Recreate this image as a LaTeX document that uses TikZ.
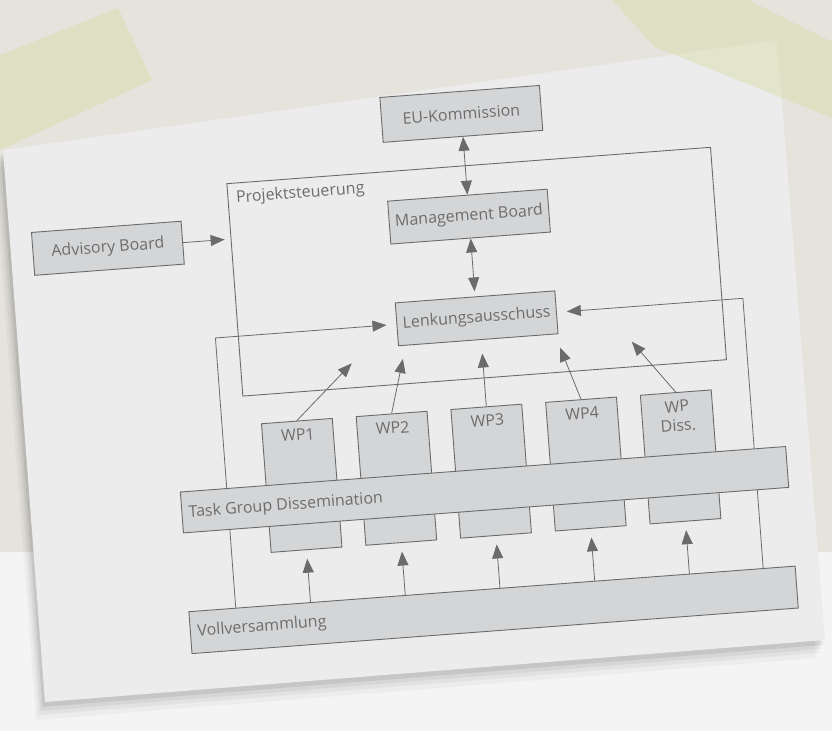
\documentclass[tikz,border=0pt]{standalone}
\usepackage{fontspec}
\setmainfont{Open Sans}
\usetikzlibrary{arrows.meta,calc}

\definecolor{boxfill}{HTML}{D4D5D7}
\definecolor{linegray}{HTML}{6B6B6B}
\definecolor{textgray}{HTML}{6D6D6D}
\definecolor{paper}{HTML}{ECECEC}
\definecolor{wall}{HTML}{E5E3DC}
\definecolor{floor}{HTML}{F4F4F4}
\definecolor{tape}{HTML}{D6DBA6}
\newcommand{\diagfont}{\fontsize{16}{19}\selectfont}

\begin{document}
\begin{tikzpicture}[x=1pt,y=1pt,
    unit/.style={draw=linegray,fill=boxfill,line width=0.9pt,text=textgray,font=\diagfont,inner sep=0pt,align=center},
    frame/.style={draw=linegray,line width=0.9pt},
    conn/.style={draw=linegray,line width=0.8pt,-{Triangle[length=14pt,width=11pt]}},
    dconn/.style={draw=linegray,line width=0.8pt,{Triangle[length=14pt,width=11pt]}-{Triangle[length=14pt,width=11pt]}},
    caption/.style={text=textgray,font=\diagfont,inner sep=0pt}]

\useasboundingbox (0,0) rectangle (832,731);

\begin{scope}[shift={(0,731)},yscale=-1]
  \fill[floor] (0,0) rectangle (832,731);
  \fill[wall] (0,0) rectangle (832,552);
  \foreach \d/\o in {18/0.03,13/0.04,9/0.05,5/0.07}
    \fill[black,opacity=\o,shift={(-0.5*\d,\d)}] (3,150) -- (777,40) -- (825,640) -- (45,702) -- cycle;
  \fill[paper] (3,150) -- (777,40) -- (825,640) -- (45,702) -- cycle;
  \fill[tape,opacity=0.45] (0,55) -- (118,8) -- (152,80) -- (0,150) -- cycle;
  \fill[tape,opacity=0.45] (612,0) -- (748,0) -- (832,42) -- (832,118) -- (655,47) -- cycle;
\end{scope}

\begin{scope}[shift={(416,366)},rotate=4.3,transform shape]
  \node[frame,minimum width=485pt,minimum height=213pt] (proj) at (67.5,88.5) {};
  \node[caption,anchor=north west] at (-167,187.5) {Projektsteuerung};
  \node[unit,minimum width=160pt,minimum height=45pt] (eu) at (64,247) {EU-Kommission};
  \node[unit,minimum width=160pt,minimum height=43pt] (mb) at (64,144) {Management Board};
  \node[unit,minimum width=160pt,minimum height=43pt] (lenk) at (64,42) {Lenkungsausschuss};
  \node[unit,minimum width=150pt,minimum height=43pt] (adv) at (-298.5,139.5) {Advisory Board};

  \node[unit,minimum width=608pt,minimum height=42pt] (vv) at (59,-250) {};
  \node[caption,anchor=base west] at (-238,-254) {Vollversammlung};

  \coordinate (fbl) at (-198,42);
  \coordinate (fbr) at (331,42);
  \draw[conn] ($(vv.north west)!(fbl)!(vv.north east)$) -- (fbl) -- ($(lenk.west)!10pt!(fbl)$);
  \draw[conn] ($(vv.north west)!(fbr)!(vv.north east)$) -- (fbr) -- ($(lenk.east)!10pt!(fbr)$);

  \foreach \i/\u/\txt in {1/-123/WP1,2/-28/WP2,3/67/WP3,4/162/WP4,5/257/{WP\\Diss.}}{
    \node[unit,minimum width=71pt,minimum height=129pt] (wp\i) at (\u,-111.5) {};
    \node[caption,align=center,anchor=north] at (\u,-55) {\txt};
  }

  \node[unit,minimum width=607pt,minimum height=41pt] (tg) at (59,-129.5) {};
  \node[caption,anchor=base west] at (-238,-135) {Task Group Dissemination};

  \foreach \i/\u in {1/-123,2/-28,3/67,4/162,5/257}{
    \coordinate (in\i) at (\u,-185);
    \draw[conn] ($(vv.north west)!(in\i)!(vv.north east)$) -- (in\i);
  }
  \foreach \i/\u/\v in {1/-64/6.5,2/-12.6/7,3/67/6.5,4/145/6.5,5/217/7}{
    \coordinate (out\i) at (\u,\v);
    \draw[conn] (wp\i.north) -- (out\i);
  }

  \draw[conn,shorten >=6pt] (adv.east) -- ($(proj.north west)!(adv.east)!(proj.south west)$);
  \draw[dconn] (eu.south) -- (mb.north);
  \draw[dconn,shorten >=5pt] (mb.south) -- (lenk.north);
\end{scope}
\end{tikzpicture}
\end{document}
